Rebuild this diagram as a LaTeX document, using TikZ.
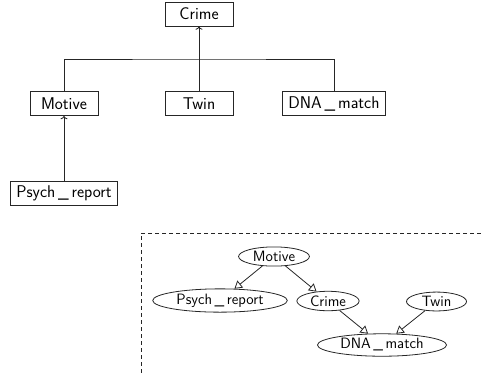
\documentclass[tikz,border=0pt]{standalone}
\usepackage{fontspec}
\usetikzlibrary{arrows.meta,shapes.geometric}
\begin{document}
\begin{tikzpicture}[x=1pt, y=-1pt, font=\sffamily,
        box/.style={draw=black!85, line width=0.8pt, minimum width=68pt, minimum height=24pt,
            inner xsep=6pt, font=\sffamily\fontsize{17}{20}\selectfont},
        oval/.style={draw=black!85, ellipse, line width=0.8pt, minimum width=60pt,
            inner xsep=4pt, inner ysep=1.5pt, font=\sffamily\fontsize{15}{18}\selectfont},
        link/.style={draw=black!85, line width=0.8pt},
        flow/.style={draw=black!85, line width=0.8pt, -{Triangle[open, length=7.5pt, width=9pt]}}]
        \useasboundingbox (0, 0) rectangle (481, 373);
        % tree of boxes
        \node [box] (crime) at (199, 14) {Crime};
        \node [box] (motive) at (64, 103.5) {Motive};
        \node [box] (twin) at (199, 103.5) {Twin};
        \node [box] (dna) at (334, 103.5) {DNA\,\_\,match};
        \node [box] (psych) at (64, 193.5) {Psych\,\_\,report};
        \coordinate (join) at (199, 59);
        \draw [link] (motive.north) |- (join) -| (dna.north);
        \draw [link, ->] (twin.north) -- (crime.south);
        \draw [link, ->] (psych.north) -- (motive.south);
        % dashed frame
        \draw [black!85, dash pattern=on 4pt off 3pt, line width=0.7pt]
            (481, 233) -- (141, 233) -- (141, 373);
        % network of ovals
        \node [oval] (motiveB) at (274, 256.5) {Motive};
        \node [oval] (psychB) at (220, 300.5) {Psych\,\_\,report};
        \node [oval] (crimeB) at (328, 301) {Crime};
        \node [oval] (twinB) at (436.5, 301.5) {Twin};
        \node [oval] (dnaB) at (382, 345) {DNA\,\_\,match};
        \draw [flow] (motiveB) -- (psychB);
        \draw [flow] (motiveB) -- (crimeB);
        \draw [flow] (crimeB) -- (dnaB);
        \draw [flow] (twinB) -- (dnaB);
\end{tikzpicture}
\end{document}
